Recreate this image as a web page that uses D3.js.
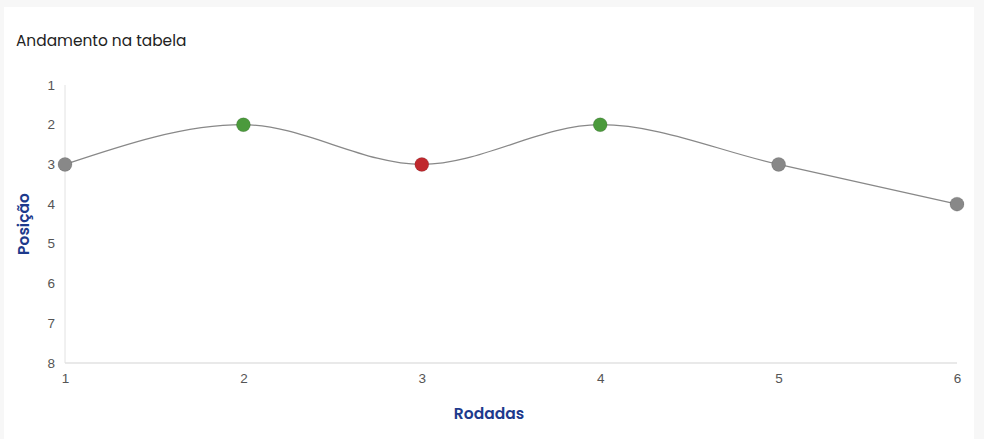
<!DOCTYPE html>
<html><head><meta charset="utf-8">
<script src="https://cdn.jsdelivr.net/npm/d3@7"></script>
<style>
body{margin:0;background:#f7f7f7;}
svg{display:block;}
</style></head><body>
<svg id="c" width="984" height="439"></svg>
<script>
const rounds = [1, 2, 3, 4, 5, 6];
const positions = [3, 2, 3, 2, 3, 4];
const pointColors = ["#888888", "#4b9a3c", "#c0292e", "#4b9a3c", "#888888", "#888888"];
const yTicks = [1, 2, 3, 4, 5, 6, 7, 8];
const title = "Andamento na tabela";
const xTitle = "Rodadas";
const yTitle = "Posição";

const svg = d3.select("#c");
svg.append("rect").attr("x", 4).attr("y", 7).attr("width", 970).attr("height", 440).attr("fill", "#fff");
svg.append("text").attr("x", 16).attr("y", 46).text(title)
  .attr("font-family", "Poppins, Inter, 'Open Sans', sans-serif").attr("font-size", 15.4).attr("fill", "#222");

const x = d3.scaleLinear().domain([1, 6]).range([65, 957]);
const y = d3.scaleLinear().domain([1, 8]).range([85, 363]);

const g = svg.append("g");
g.append("line").attr("x1", 65).attr("x2", 65).attr("y1", y(1)).attr("y2", y(8)).attr("stroke", "#e2e2e2");
g.append("line").attr("x1", x(1)).attr("x2", x(6)).attr("y1", y(8)).attr("y2", y(8)).attr("stroke", "#e2e2e2").attr("stroke-width", 1.5);

const yAxis = g.append("g").attr("transform", "translate(65,0)")
  .call(d3.axisLeft(y).tickValues(yTicks).tickSize(0).tickPadding(10).tickFormat(d3.format("d")));
yAxis.select(".domain").remove();
const xAxis = g.append("g").attr("transform", `translate(0,${y(8)})`)
  .call(d3.axisBottom(x).tickValues(rounds).tickSize(0).tickPadding(9).tickFormat(d3.format("d")));
xAxis.select(".domain").remove();
g.selectAll(".tick text").attr("font-family", "'Liberation Sans', Arial, sans-serif").attr("font-size", 13.5).attr("fill", "#555");
yAxis.selectAll(".tick text").attr("dy", "0.3em");
xAxis.selectAll(".tick text").attr("dy", "0.85em");

const data = rounds.map((r, i) => ({ r, p: positions[i], c: pointColors[i] }));
const line = d3.line().x(d => x(d.r)).y(d => y(d.p)).curve(d3.curveMonotoneX);
g.append("path").datum(data).attr("d", line).attr("fill", "none").attr("stroke", "#888").attr("stroke-width", 1.3);

g.selectAll("circle.pt").data(data).join("circle").attr("class", "pt")
  .attr("cx", d => x(d.r)).attr("cy", d => y(d.p)).attr("r", 7)
  .attr("fill", d => d.c).attr("stroke", "rgba(0,0,0,0.12)").attr("stroke-width", 1);

svg.append("text").attr("x", 489).attr("y", 419).attr("text-anchor", "middle").text(xTitle)
  .attr("font-family", "Poppins, Inter, 'Open Sans', sans-serif").attr("font-weight", 600).attr("font-size", 15.5).attr("fill", "#1d3a8c");
svg.append("text").attr("transform", `translate(29,${(y(1)+y(8))/2}) rotate(-90)`).attr("text-anchor", "middle").text(yTitle)
  .attr("font-family", "Poppins, Inter, 'Open Sans', sans-serif").attr("font-weight", 600).attr("font-size", 15.5).attr("fill", "#1d3a8c");
</script>
</body></html>
